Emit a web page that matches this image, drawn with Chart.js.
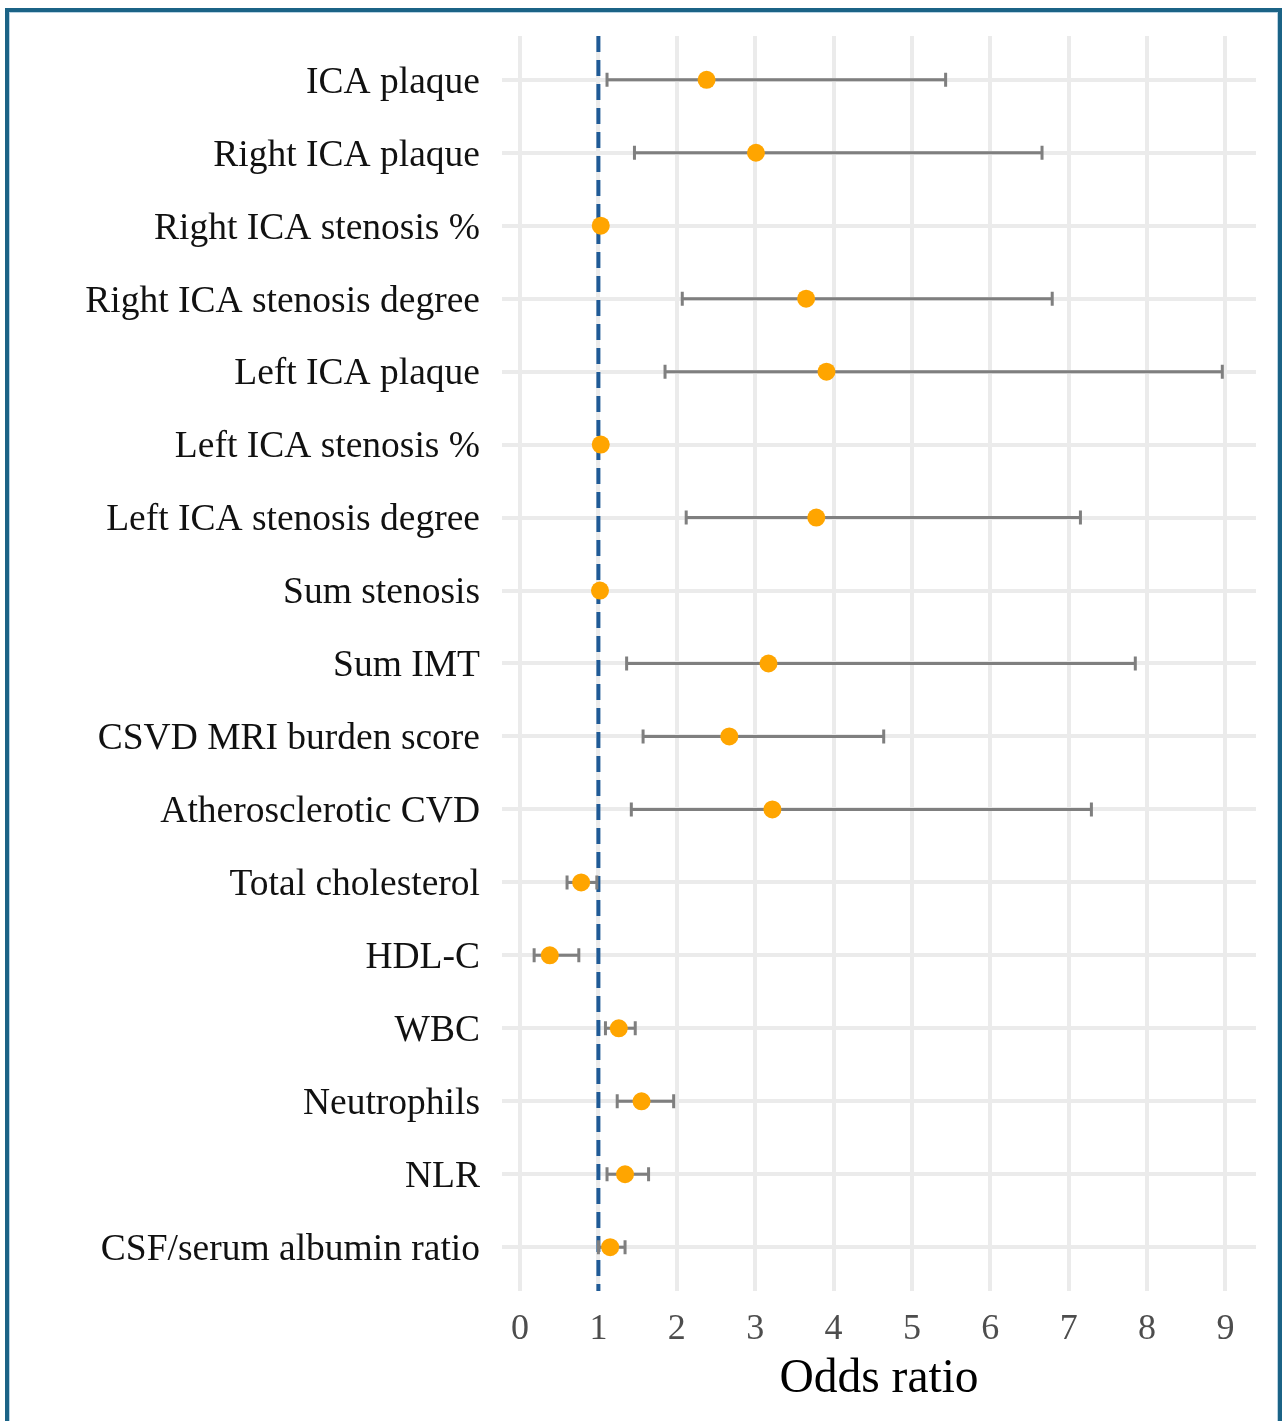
<!DOCTYPE html>
<html>
<head>
<meta charset="utf-8">
<title>Odds ratio forest plot</title>
<script src="https://cdn.jsdelivr.net/npm/chart.js@4.4.1/dist/chart.umd.min.js"></script>
<style>
  html, body { margin: 0; padding: 0; background: #fff; overflow: hidden; }
  #wrap { position: relative; width: 1282px; height: 1421px; }
  #frame {
    position: absolute; left: 5px; top: 8px; width: 1277px; height: 1440px;
    box-sizing: border-box; border: 4px solid #1b6386;
    box-shadow: inset 0 0 0 1px #b9d3e3;
    pointer-events: none;
  }
</style>
</head>
<body>
<div id="wrap">
  <canvas id="forest" width="1282" height="1421"></canvas>
  <div id="frame"></div>
</div>
<script>
// variables, top to bottom
const labels = [
  "ICA plaque",
  "Right ICA plaque",
  "Right ICA stenosis %",
  "Right ICA stenosis degree",
  "Left ICA plaque",
  "Left ICA stenosis %",
  "Left ICA stenosis degree",
  "Sum stenosis",
  "Sum IMT",
  "CSVD MRI burden score",
  "Atherosclerotic CVD",
  "Total cholesterol",
  "HDL-C",
  "WBC",
  "Neutrophils",
  "NLR",
  "CSF/serum albumin ratio"
];
const oddsRatio = [2.38, 3.01, 1.03, 3.65, 3.91, 1.03, 3.78, 1.02, 3.17, 2.67, 3.22, 0.78, 0.38, 1.26, 1.55, 1.34, 1.15];
const ciLower   = [1.11, 1.46, 1.01, 2.07, 1.85, 1.01, 2.12, 1.00, 1.36, 1.57, 1.42, 0.60, 0.18, 1.09, 1.24, 1.11, 1.00];
const ciUpper   = [5.43, 6.66, 1.05, 6.79, 8.96, 1.05, 7.15, 1.04, 7.85, 4.64, 7.29, 0.98, 0.75, 1.47, 1.96, 1.64, 1.34];
const refLine = 1;
const xTickStep = 1;

const FONT = "'Liberation Serif', 'Times New Roman', serif";

// dashed reference line + whiskers, drawn under the points
const errorBars = {
  id: 'errorBars',
  beforeDatasetsDraw(chart) {
    const { ctx, chartArea, scales: { x, y } } = chart;
    ctx.save();

    const xr = x.getPixelForValue(refLine);
    ctx.strokeStyle = '#1f5a96';
    ctx.lineWidth = 4;
    ctx.setLineDash([16, 8]);
    ctx.beginPath();
    ctx.moveTo(xr, chartArea.top);
    ctx.lineTo(xr, chartArea.bottom);
    ctx.stroke();

    ctx.setLineDash([]);
    ctx.strokeStyle = '#7f7f7f';
    ctx.lineWidth = 3;
    labels.forEach((lab, i) => {
      const py = y.getPixelForValue(i);
      const x0 = x.getPixelForValue(ciLower[i]);
      const x1 = x.getPixelForValue(ciUpper[i]);
      ctx.beginPath();
      ctx.moveTo(x0, py); ctx.lineTo(x1, py);
      ctx.moveTo(x0, py - 7); ctx.lineTo(x0, py + 7);
      ctx.moveTo(x1, py - 7); ctx.lineTo(x1, py + 7);
      ctx.stroke();
    });
    ctx.restore();
  }
};

new Chart(document.getElementById('forest'), {
  type: 'scatter',
  data: {
    datasets: [{
      data: oddsRatio.map((v, i) => ({ x: v, y: i })),
      backgroundColor: '#ffa500',
      borderColor: '#ffa500',
      borderWidth: 0,
      pointRadius: 9,
      pointHoverRadius: 9
    }]
  },
  options: {
    responsive: false,
    animation: false,
    layout: { padding: { top: 36, right: 26, left: 0, bottom: 0 } },
    plugins: { legend: { display: false }, tooltip: { enabled: false } },
    scales: {
      x: {
        type: 'linear',
        min: -0.23,
        max: 9.39,
        border: { display: false },
        grid: { color: '#ebebeb', lineWidth: 4, drawTicks: false },
        ticks: {
          stepSize: xTickStep,
          includeBounds: false,
          color: '#4d4d4d',
          font: { family: FONT, size: 36 },
          padding: 17
        },
        title: {
          display: true,
          text: 'Odds ratio',
          color: '#000',
          font: { family: FONT, size: 47.5 },
          padding: { top: 0, bottom: 13 }
        },
        afterFit: s => { s.height = 130; s.paddingLeft = 0; s.paddingRight = 0; }
      },
      y: {
        type: 'linear',
        reverse: true,
        min: -0.6,
        max: 16.6,
        border: { display: false },
        grid: { color: '#ebebeb', lineWidth: 4, drawTicks: false },
        ticks: {
          stepSize: 1,
          includeBounds: false,
          autoSkip: false,
          color: '#111',
          font: { family: FONT, size: 37.5 },
          padding: 22,
          labelOffset: 3,
          callback: v => labels[v] ?? ''
        },
        afterFit: s => { s.width = 502; s.paddingTop = 0; s.paddingBottom = 0; }
      }
    }
  },
  plugins: [errorBars]
});
</script>
</body>
</html>
